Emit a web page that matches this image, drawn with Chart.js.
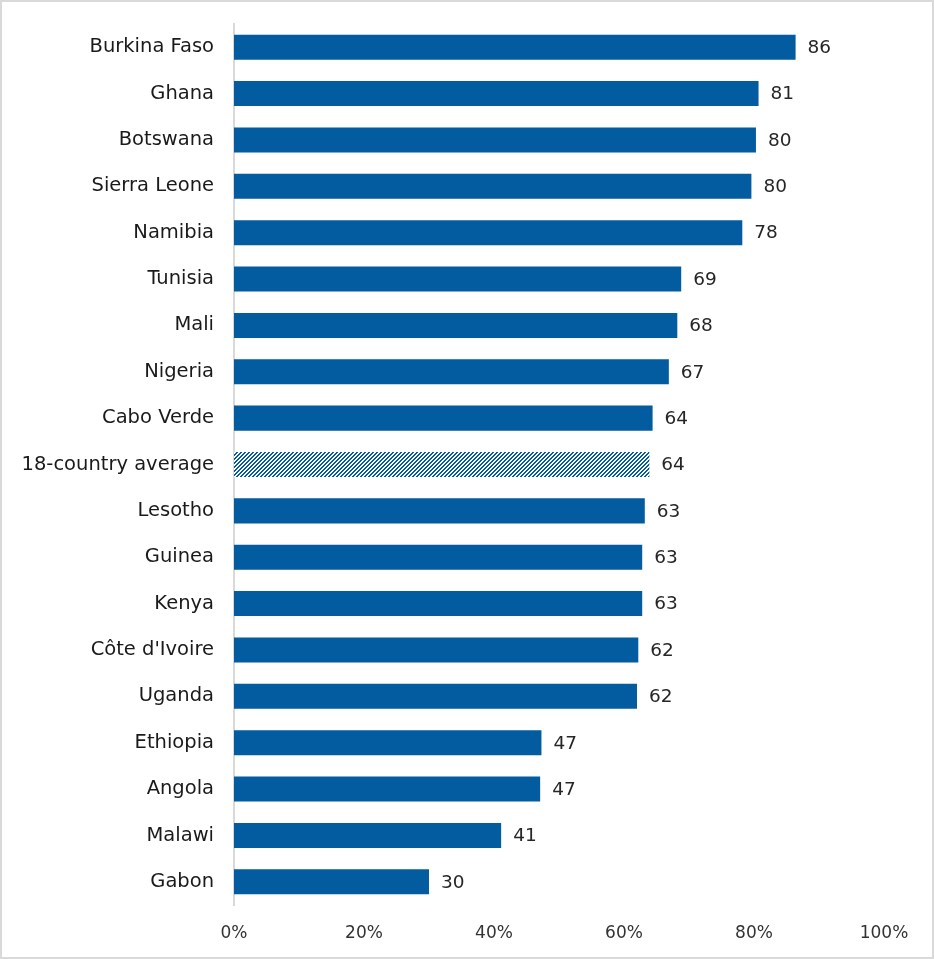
<!DOCTYPE html>
<html>
<head>
<meta charset="utf-8">
<script src="https://cdn.jsdelivr.net/npm/chart.js@4/dist/chart.umd.min.js"></script>
<style>
  html, body { margin: 0; padding: 0; background: #fff; }
  #wrap { width: 934px; height: 959px; position: relative; }
</style>
</head>
<body>
<div id="wrap"><canvas id="c" width="934" height="959"></canvas></div>
<script>
const categories = ["Burkina Faso","Ghana","Botswana","Sierra Leone","Namibia","Tunisia","Mali","Nigeria","Cabo Verde","18-country average","Lesotho","Guinea","Kenya","Côte d'Ivoire","Uganda","Ethiopia","Angola","Malawi","Gabon"];
const values = [86.4, 80.7, 80.3, 79.6, 78.2, 68.8, 68.2, 66.9, 64.4, 63.9, 63.2, 62.8, 62.8, 62.2, 62.0, 47.3, 47.1, 41.1, 30.0];
const valueLabels = ["86","81","80","80","78","69","68","67","64","64","63","63","63","62","62","47","47","41","30"];
const xTicks = [0, 20, 40, 60, 80, 100];
const averageLabel = "18-country average";

const BLUE = '#035ba0';
const FONT = '"DejaVu Sans", sans-serif';

function makeHatch() {
  const s = 4;
  const cv = document.createElement('canvas');
  cv.width = s; cv.height = s;
  const cx = cv.getContext('2d');
  const img = cx.createImageData(s, s);
  for (let y = 0; y < s; y++) {
    for (let x = 0; x < s; x++) {
      const i = (y * s + x) * 4;
      const on = ((x + y) % s) < 2;
      img.data[i] = on ? 3 : 255;
      img.data[i+1] = on ? 91 : 255;
      img.data[i+2] = on ? 160 : 255;
      img.data[i+3] = 255;
    }
  }
  cx.putImageData(img, 0, 0);
  return document.getElementById('c').getContext('2d').createPattern(cv, 'repeat');
}
const hatch = makeHatch();
const colors = categories.map(c => c === averageLabel ? hatch : BLUE);

const frame = {
  id: 'frame',
  beforeDraw(chart) {
    const ctx = chart.ctx;
    ctx.save();
    ctx.fillStyle = '#fff';
    ctx.fillRect(0, 0, chart.width, chart.height);
    ctx.restore();
  },
  afterDraw(chart) {
    const ctx = chart.ctx;
    ctx.save();
    ctx.strokeStyle = '#d9d9d9';
    ctx.lineWidth = 2;
    ctx.strokeRect(1, 1, chart.width - 2, chart.height - 2);
    ctx.restore();
  }
};

const dataLabels = {
  id: 'dataLabels',
  afterDatasetsDraw(chart) {
    const ctx = chart.ctx;
    const meta = chart.getDatasetMeta(0);
    ctx.save();
    ctx.font = '18.5px ' + FONT;
    ctx.fillStyle = '#262626';
    ctx.textAlign = 'left';
    ctx.textBaseline = 'middle';
    meta.data.forEach((bar, i) => {
      ctx.fillText(valueLabels[i], bar.x + 12, bar.y + 1);
    });
    ctx.restore();
  }
};

new Chart(document.getElementById('c'), {
  type: 'bar',
  data: {
    labels: categories,
    datasets: [{
      data: values,
      backgroundColor: colors,
      borderWidth: 0,
      barPercentage: 0.54,
      categoryPercentage: 1.0
    }]
  },
  options: {
    indexAxis: 'y',
    responsive: false,
    animation: false,
    layout: { padding: { top: 24, right: 50, left: 0, bottom: 0 } },
    plugins: { legend: { display: false }, tooltip: { enabled: false } },
    scales: {
      x: {
        min: 0, max: 100,
        afterBuildTicks(scale) { scale.ticks = xTicks.map(v => ({ value: v })); },
        afterFit(scale) { scale.height = 54; scale.paddingLeft = 0; scale.paddingRight = 0; },
        grid: { display: false, drawTicks: false },
        border: { display: false },
        ticks: {
          padding: 18,
          color: '#333333',
          font: { family: FONT, size: 17 },
          callback: v => v + '%'
        }
      },
      y: {
        afterFit(scale) { scale.width = 234; scale.paddingTop = 0; scale.paddingBottom = 0; },
        grid: { display: false, drawTicks: false },
        border: { display: true, color: '#d9d9d9', width: 2 },
        ticks: {
          padding: 20,
          color: '#1a1a1a',
          font: { family: FONT, size: 19.5 }
        }
      }
    }
  },
  plugins: [frame, dataLabels]
});
</script>
</body>
</html>
